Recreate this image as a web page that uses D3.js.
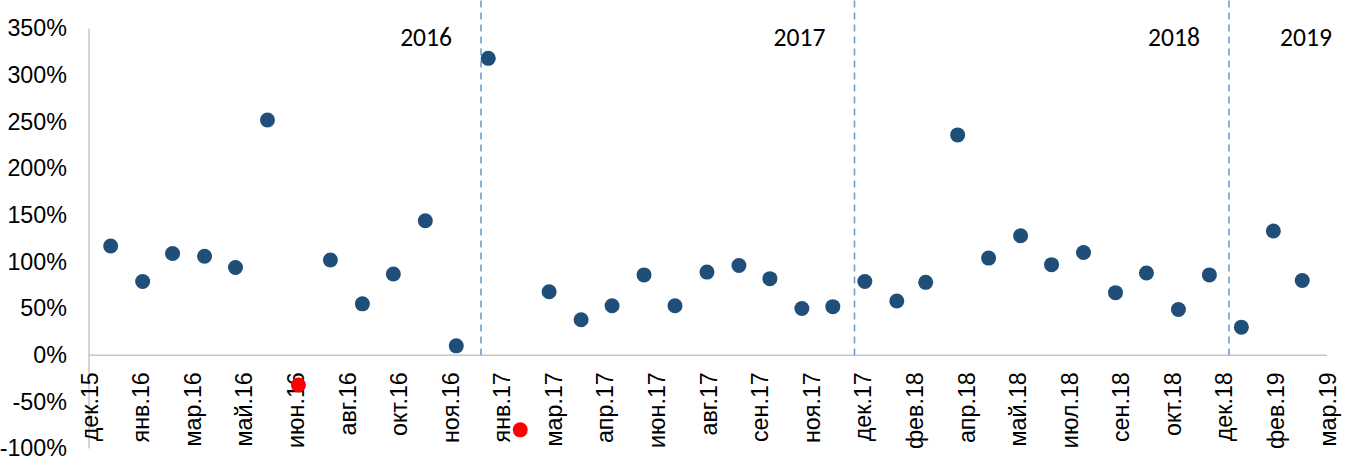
<!DOCTYPE html>
<html>
<head>
<meta charset="utf-8">
<script src="https://cdn.jsdelivr.net/npm/d3@7"></script>
<style>
  body { margin: 0; background: #fff; }
  svg { display: block; font-family: Calibri, Carlito, "Liberation Sans", Arial, sans-serif; }
  .axis .domain, .axis .tick line { display: none; }
  .axis text { font-size: 23.3px; fill: #000; }
</style>
</head>
<body>
<svg id="chart" width="1351" height="458"></svg>
<script>
// monthly points, Jan 2016 .. Mar 2019
const months = [
  "2016-01", "2016-02", "2016-03", "2016-04", "2016-05", "2016-06",
  "2016-07", "2016-08", "2016-09", "2016-10", "2016-11", "2016-12",
  "2017-01", "2017-02", "2017-03", "2017-04", "2017-05", "2017-06",
  "2017-07", "2017-08", "2017-09", "2017-10", "2017-11", "2017-12",
  "2018-01", "2018-02", "2018-03", "2018-04", "2018-05", "2018-06",
  "2018-07", "2018-08", "2018-09", "2018-10", "2018-11", "2018-12",
  "2019-01", "2019-02", "2019-03"
];
// percent
const values = [
  117, 79, 109, 106, 94, 252, -32, 102, 55, 87, 144, 10,
  318, -80, 68, 38, 53, 86, 53, 89, 96, 82, 50, 52,
  79, 58, 78, 236, 104, 128, 97, 110, 67, 88, 49, 86,
  30, 133, 80
];
const yTicks = [-100, -50, 0, 50, 100, 150, 200, 250, 300, 350];
const xTickLabels = [
  "дек.15", "янв.16", "мар.16", "май.16", "июн.16", "авг.16", "окт.16", "ноя.16",
  "янв.17", "мар.17", "апр.17", "июн.17", "авг.17", "сен.17", "ноя.17",
  "дек.17", "фев.18", "апр.18", "май.18", "июл.18", "сен.18", "окт.18",
  "дек.18", "фев.19", "мар.19"
];
const yearLabels = ["2016", "2017", "2018", "2019"];
const yearDividers = ["2016-12-25", "2017-12-22", "2018-12-20"];
const axisStart = "2015-12-11";
const tickStepDays = 50;

const svg = d3.select("#chart");
const width = 1351;
const height = 458;
const margin = { top: 28.5, right: 24, bottom: 9.5, left: 89 };
const plotW = width - margin.left - margin.right;
const plotH = height - margin.top - margin.bottom;

svg.append("rect").attr("width", width).attr("height", height).attr("fill", "#fff");

const parseMonth = d3.timeParse("%Y-%m");
const parseDay = d3.timeParse("%Y-%m-%d");
const start = parseDay(axisStart);
const tickDates = xTickLabels.map((_, i) => d3.timeDay.offset(start, i * tickStepDays));
const end = tickDates[tickDates.length - 1];

const x = d3.scaleTime().domain([start, end]).range([0, plotW]);
const y = d3.scaleLinear().domain([-100, 350]).range([plotH, 0]);

const g = svg.append("g").attr("transform", `translate(${margin.left},${margin.top})`);

// axis lines
g.append("line")
  .attr("x1", 0).attr("x2", 0).attr("y1", 0).attr("y2", plotH)
  .attr("stroke", "#c6c6c6").attr("stroke-width", 1.5);
g.append("line")
  .attr("x1", 0).attr("x2", plotW).attr("y1", y(0)).attr("y2", y(0))
  .attr("stroke", "#c6c6c6").attr("stroke-width", 1.5);

// y axis
const yAxis = d3.axisLeft(y).tickValues(yTicks).tickFormat(d => d + "%").tickSize(0).tickPadding(22);
g.append("g").attr("class", "axis").call(yAxis);

// x axis labels, rotated
const xAxis = d3.axisBottom(x).tickValues(tickDates).tickFormat((d, i) => xTickLabels[i]).tickSize(0);
const xg = g.append("g").attr("class", "axis").attr("transform", `translate(0,${y(0)})`).call(xAxis);
xg.selectAll("text")
  .attr("transform", "rotate(-90)")
  .attr("text-anchor", "end")
  .attr("x", -17)
  .attr("y", 0)
  .attr("dy", "0.35em");

// year dividers
const dividers = yearDividers.map(parseDay);
g.selectAll(".divider")
  .data(dividers)
  .join("line")
  .attr("class", "divider")
  .attr("x1", d => x(d)).attr("x2", d => x(d))
  .attr("y1", -28).attr("y2", y(0))
  .attr("stroke", "#6a9fd4")
  .attr("stroke-width", 1.6)
  .attr("stroke-dasharray", "7,5");

// year labels
g.selectAll(".year")
  .data(yearLabels)
  .join("text")
  .attr("class", "year")
  .attr("x", (d, i) => i < dividers.length ? x(dividers[i]) - 29 : plotW + 5)
  .attr("y", 46 - margin.top)
  .attr("text-anchor", "end")
  .attr("font-size", 25.6)
  .attr("fill", "#000")
  .text(d => d);

// points
const data = months.map((m, i) => ({ date: parseMonth(m), value: values[i] }));
g.selectAll(".dot")
  .data(data)
  .join("circle")
  .attr("class", "dot")
  .attr("cx", d => x(d.date))
  .attr("cy", d => y(d.value))
  .attr("r", 7.5)
  .attr("fill", d => d.value < 0 ? "#ff0000" : "#1f4e79");
</script>
</body>
</html>
